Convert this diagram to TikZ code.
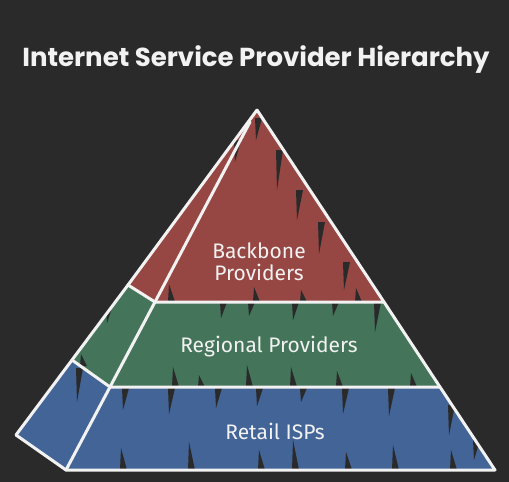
\documentclass[tikz,border=0pt]{standalone}
\usepackage{fontspec}
\setmainfont{Fira Sans}
\newfontfamily\titulofont{Poppins}
\definecolor{fondo}{HTML}{2A2A2A}
\definecolor{rojo}{HTML}{964743}
\definecolor{verde}{HTML}{447459}
\definecolor{azul}{HTML}{436497}
\definecolor{linea}{HTML}{F2F2F2}
\begin{document}
\begin{tikzpicture}[x=1pt,y=-1pt,
  borde/.style={draw=linea, line width=3pt, line join=round, line cap=round},
  hueco/.style={fondo},
  etiqueta/.style={text=linea, font=\fontsize{21}{22}\selectfont, align=center}]
% Fondo
\fill[fondo] (0,0) rectangle (509,482);
% Titulo
\node[text=linea, font=\titulofont\bfseries\fontsize{26}{28}\selectfont] (titulo) at (256,60) {Internet Service Provider Hierarchy};
% Vertices de la piramide
\coordinate (cima) at (257,110);
\coordinate (fc) at (250,122);
\coordinate (s1) at (128,285); \coordinate (f1) at (155,302); \coordinate (r1) at (384,302);
\coordinate (s2) at (72,360);  \coordinate (f2) at (110,387); \coordinate (r2) at (440,387);
\coordinate (s3) at (16,435);  \coordinate (f3) at (66,470);  \coordinate (r3) at (495,470);
% Capas
\fill[rojo] (cima) -- (r1) -- (f1) -- (s1) -- cycle;
\fill[verde] (f1) -- (r1) -- (r2) -- (f2) -- (s2) -- (s1) -- cycle;
\fill[azul] (f2) -- (r2) -- (r3) -- (f3) -- (s3) -- (s2) -- cycle;
% Huecos del relleno
\foreach \x/\y/\l in {234/140/22, 255/118/22, 276/150/40, 296/190/30, 318/222/32, 343/262/28,
  168/302/-18, 253/302/-15, 300/302/-12, 355/302/-14,
  106/305/18, 220/302/16, 248/302/14, 292/302/18, 332/302/14, 374/302/30,
  80/366/-12, 172/387/-20, 198/387/-12, 246/387/-22, 290/387/-20, 336/387/-16, 410/387/-14,
  76/368/34, 122/388/22, 168/388/26, 215/388/20, 256/388/18, 300/388/14,
  342/388/26, 388/388/28, 448/405/30, 473/440/20,
  120/470/-22, 188/470/-28, 258/470/-20, 292/470/-30, 345/470/-18, 392/470/-25, 450/470/-20}
  \fill[hueco] (\x,\y) -- ++(7,0) -- ++(-6,\l) -- cycle;
% Etiquetas
\node[etiqueta] (backbone) at (259,262) {Backbone\\Providers};
\node[etiqueta] (regional) at (269,347) {Regional Providers};
\node[etiqueta] (retail) at (275,431) {Retail ISPs};
% Bordes
\draw[borde] (s3) -- (f3) -- (r3) -- (r2) -- (r1) -- (cima);
\draw[borde] (s1) -- (f1) -- (r1);
\draw[borde] (s2) -- (f2) -- (r2);
\draw[borde] (fc) -- (f1) -- (f2) -- (f3);
\draw[borde] (cima) -- (s1);
\draw[borde] (s1) -- (s2);
\draw[borde] (s2) -- (s3);
\end{tikzpicture}
\end{document}
